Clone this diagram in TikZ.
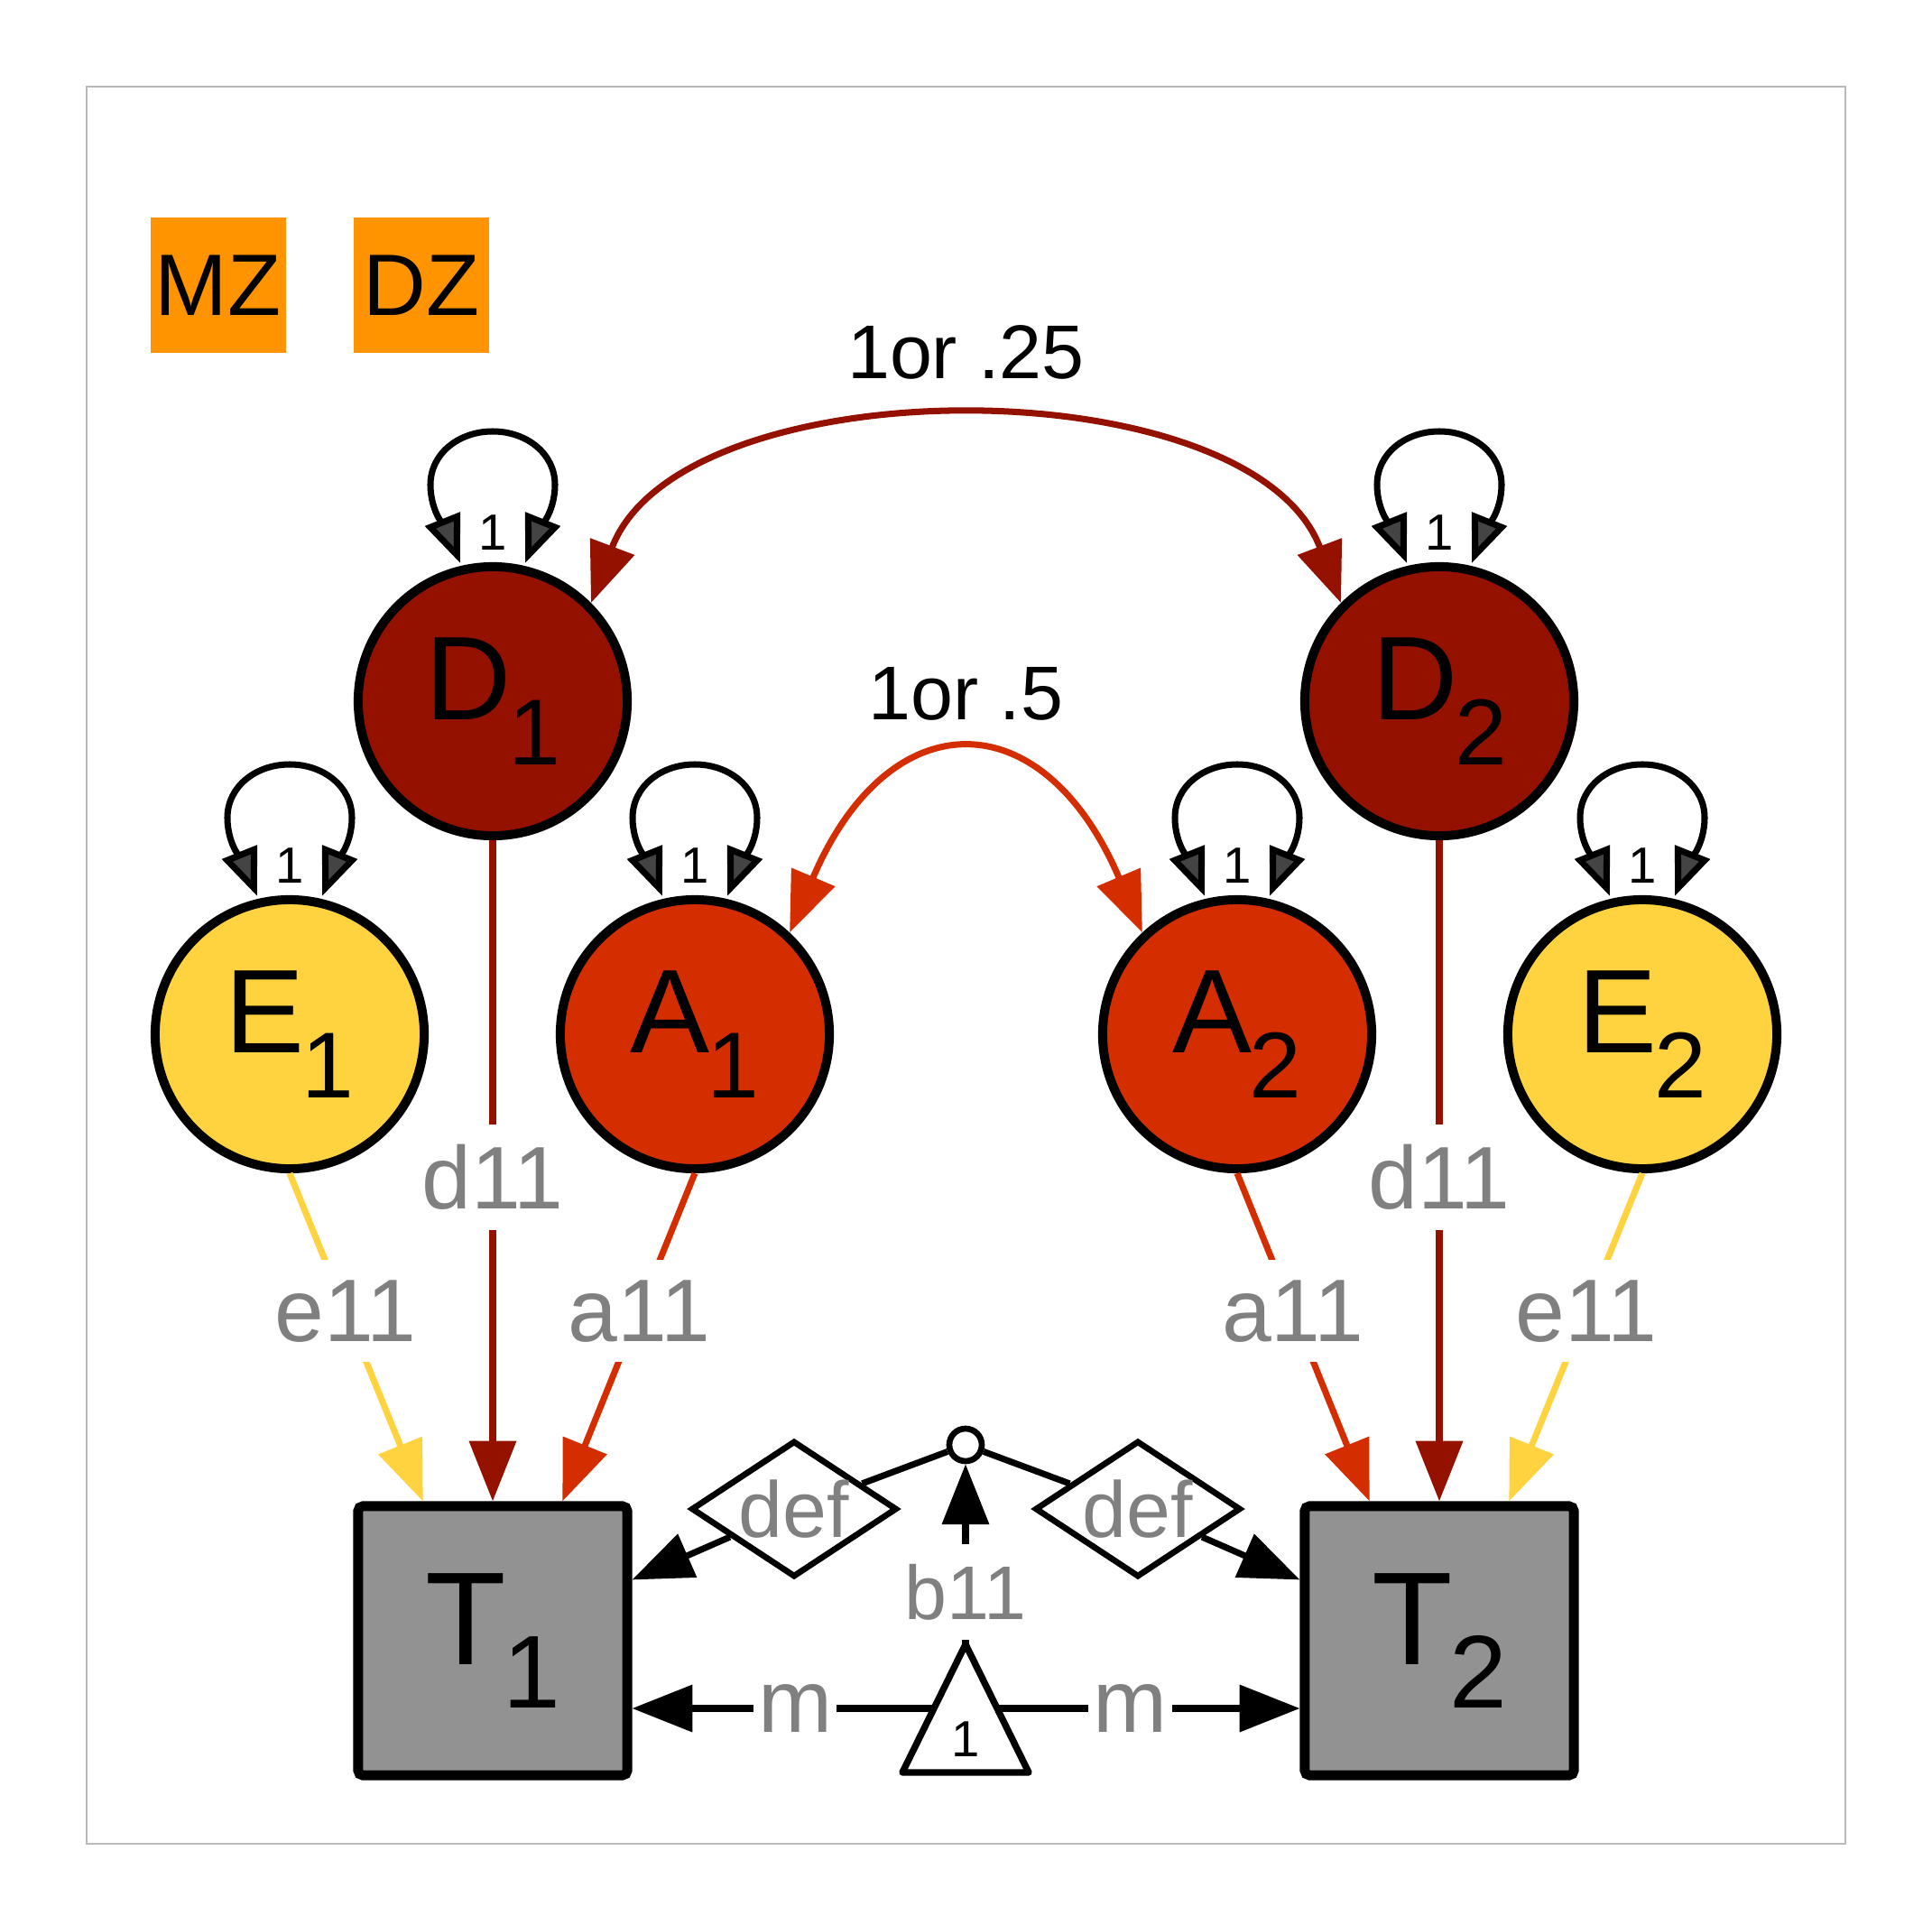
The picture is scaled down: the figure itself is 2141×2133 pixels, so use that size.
\documentclass[tikz,border=0pt]{standalone}
\usepackage{fontspec}
\setmainfont{Liberation Sans}
\usetikzlibrary{arrows.meta,shapes.geometric,calc}
\definecolor{dcol}{RGB}{148,17,0}
\definecolor{acol}{RGB}{212,46,0}
\definecolor{ecol}{RGB}{255,210,64}
\definecolor{tcol}{RGB}{146,146,146}
\definecolor{zcol}{RGB}{255,147,0}
\definecolor{lblcol}{RGB}{128,128,128}
\definecolor{framecol}{RGB}{185,185,185}
\definecolor{tipgrey}{RGB}{68,68,68}
\newcommand\lvtext[2]{#1\kern-1pt\raisebox{-14.2pt}{\fontsize{29.5}{29.5}\selectfont #2}}
\newcommand\mvtext[2]{#1\kern-1pt\raisebox{-13.7pt}{\fontsize{32.6}{32.6}\selectfont #2}}
\begin{document}
\begin{tikzpicture}[x=0.01cm,y=-0.01cm,
  >={Triangle[length=19pt,width=14.5pt]},
  looptip/.tip={Triangle[length=15pt,width=11.5pt,fill=tipgrey]},
  latent/.style={circle,draw=black,line width=2.85pt,minimum size=2.98cm,inner sep=0pt,font=\fontsize{37.5}{37.5}\selectfont},
  manifest/.style={rectangle,draw=black,line width=3.1pt,minimum size=2.98cm,inner sep=0pt,fill=tcol,rounded corners=1.5pt,font=\fontsize{41.7}{41.7}\selectfont},
  conn/.style={line width=2pt},
  lbl/.style={fill=white,text=lblcol,font=\fontsize{28}{28}\selectfont,inner xsep=1.5pt,inner ysep=6.3pt},
  blbl/.style={fill=white,text=lblcol,font=\fontsize{24}{24}\selectfont,inner xsep=1.5pt,inner ysep=6.3pt},
  loopnum/.style={text=black,font=\fontsize{16}{16}\selectfont,inner sep=0pt},
  looppath/.style={line width=2pt,looptip-looptip},
  groupbox/.style={fill=zcol,minimum width=1.5cm,minimum height=1.49cm,inner sep=0pt,font=\fontsize{27.5}{27.5}\selectfont},
  defnode/.style={diamond,draw=black,line width=1.9pt,fill=white,aspect=1.51,minimum width=2.28cm,minimum height=1.51cm,inner sep=0pt,text=lblcol,font=\fontsize{25}{25}\selectfont},
  dotnode/.style={circle,draw=black,line width=1.9pt,fill=white,minimum size=0.36cm,inner sep=0pt},
  corrlabel/.style={text=black,font=\fontsize{24}{24}\selectfont,inner sep=0pt,anchor=south},
  selfloop/.pic={
    \draw[looppath] (-36,-153) .. controls (-50,-188) and (-69,-208) .. (-69,-240)
       .. controls (-69,-274) and (-38,-299) .. (0,-299)
       .. controls (38,-299) and (69,-274) .. (69,-240)
       .. controls (69,-208) and (50,-188) .. (36,-153);
    \node[loopnum] (-one) at (0,-187) {1};
  }
]
\useasboundingbox (0,0) rectangle (2141,2133);
\draw[framecol,line width=0.6pt] (96,96) rectangle (2045,2043);

% group boxes
\node[groupbox] (mz) at (241.7,316) {MZ};
\node[groupbox] (dz) at (466.7,316) {DZ};

% latent variables
\node[latent,fill=dcol] (D1) at (546,777) {\lvtext{D}{1}};
\node[latent,fill=dcol] (D2) at (1595,777) {\lvtext{D}{2}};
\node[latent,fill=ecol] (E1) at (321,1146) {\lvtext{E}{1}};
\node[latent,fill=acol] (A1) at (770,1146) {\lvtext{A}{1}};
\node[latent,fill=acol] (A2) at (1371,1146) {\lvtext{A}{2}};
\node[latent,fill=ecol] (E2) at (1820,1146) {\lvtext{E}{2}};

% manifest variables
\node[manifest] (T1) at (546,1818) {\mvtext{T}{1}};
\node[manifest] (T2) at (1595,1818) {\mvtext{T}{2}};

% self loops
\pic (lD1) at (D1) {selfloop};
\pic (lD2) at (D2) {selfloop};
\pic (lE1) at (E1) {selfloop};
\pic (lA1) at (A1) {selfloop};
\pic (lA2) at (A2) {selfloop};
\pic (lE2) at (E2) {selfloop};

% correlations
\draw[conn,dcol,<->] (D1.45) .. controls (755,404) and (1386,404) .. node[corrlabel,midway,yshift=13pt] (lblDD) {1or .25} (D2.135);
\draw[conn,acol,<->] (A1.47) .. controls (985,775) and (1156,775) .. node[corrlabel,midway,yshift=10.7pt] (lblAA) {1or .5} (A2.133);

% loadings twin 1
\draw[conn,dcol,->] (D1) -- node[lbl,pos=0.51] (lbld1) {d11} (T1);
\draw[conn,ecol,->] (E1.south) -- node[lbl,pos=0.42] (lble1) {e11} ($(T1.north)!0.5!(T1.north west)$);
\draw[conn,acol,->] (A1.south) -- node[lbl,pos=0.42] (lbla1) {a11} ($(T1.north)!0.5!(T1.north east)$);
% loadings twin 2
\draw[conn,dcol,->] (D2) -- node[lbl,pos=0.51] (lbld2) {d11} (T2);
\draw[conn,acol,->] (A2.south) -- node[lbl,pos=0.42] (lbla2) {a11} ($(T2.north)!0.5!(T2.north west)$);
\draw[conn,ecol,->] (E2.south) -- node[lbl,pos=0.42] (lble2) {e11} ($(T2.north)!0.5!(T2.north east)$);

% definition variable part
\node[dotnode] (bc) at (1070,1601) {};
\node[defnode] (defL) at (880,1672) {def};
\node[defnode] (defR) at (1261,1672) {def};
\node[inner sep=0pt,outer sep=0pt,minimum width=1.4cm,minimum height=1.42cm] (tri) at (1070,1893) {};
\draw[line width=2.1pt,line join=round] (tri.north) -- (tri.south east) -- (tri.south west) -- cycle;
\node[loopnum] (trione) at (1070,1927) {1};

\draw[conn] (bc) -- (defL);
\draw[conn,->] (defL) -- (T1);
\draw[conn] (bc) -- (defR);
\draw[conn,->] (defR) -- (T2);
\draw[conn,->] (tri.north) -- node[blbl,pos=0.29] (lblb) {b11} (bc);

\coordinate (triL) at ($(tri.north)!0.5!(tri.south west)$);
\coordinate (triR) at ($(tri.north)!0.5!(tri.south east)$);
\draw[conn,->] (triL) -- node[lbl,pos=0.46] (lblm1) {m} (triL -| T1.east);
\draw[conn,->] (triR) -- node[lbl,pos=0.44] (lblm2) {m} (triR -| T2.west);
\end{tikzpicture}
\end{document}
